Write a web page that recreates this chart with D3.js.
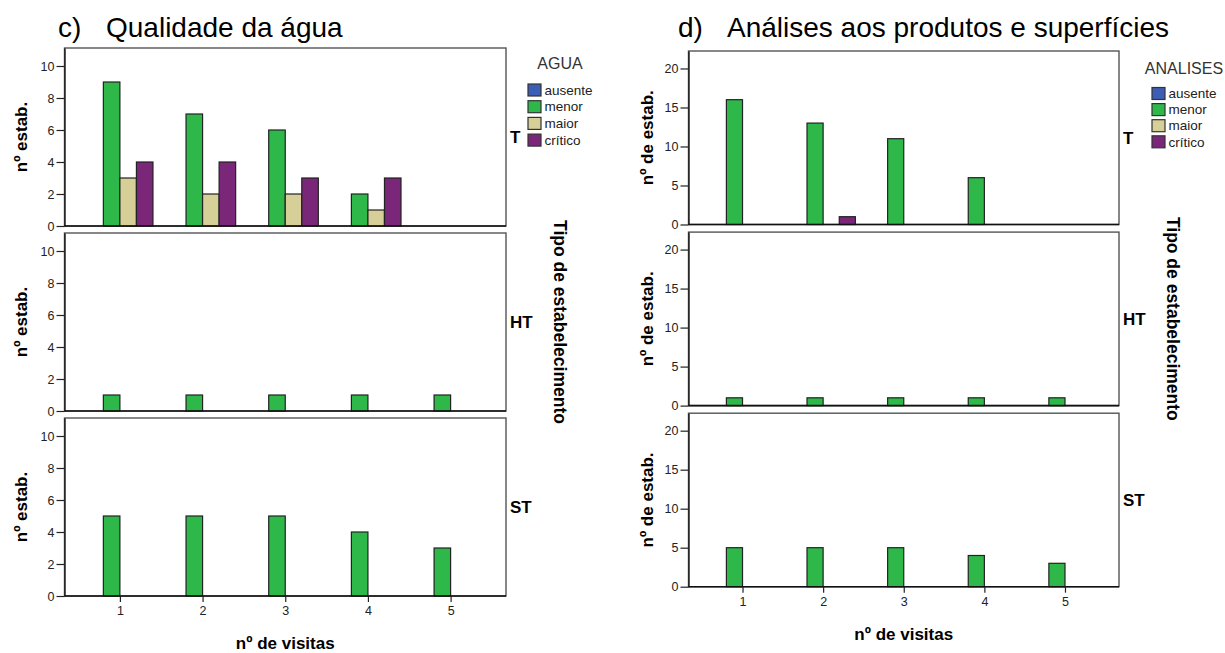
<!DOCTYPE html>
<html>
<head>
<meta charset="utf-8">
<script src="https://cdn.jsdelivr.net/npm/d3@7"></script>
<style>
  html, body { margin: 0; padding: 0; background: #fff; }
  svg { display: block; font-family: "Liberation Sans", Arial, sans-serif; }
</style>
</head>
<body>
<svg id="chart" width="1225" height="653"></svg>
<script>
// ---------- data ----------
const visits = [1, 2, 3, 4, 5];
const categories = ["ausente", "menor", "maior", "crítico"];
const categoryColors = ["#3C5DB5", "#2FB84A", "#D6CF98", "#7B2779"];
const panelTypes = ["T", "HT", "ST"];

// c) Qualidade da água
const aguaT_ausente = [0, 0, 0, 0, 0];
const aguaT_menor   = [9, 7, 6, 2, 0];
const aguaT_maior   = [3, 2, 2, 1, 0];
const aguaT_critico = [4, 4, 3, 3, 0];
const aguaHT_menor  = [1, 1, 1, 1, 1];
const aguaST_menor  = [5, 5, 5, 4, 3];
const aguaYTicks = [0, 2, 4, 6, 8, 10];

// d) Análises aos produtos e superfícies
const anT_ausente = [0, 0, 0, 0, 0];
const anT_menor   = [16, 13, 11, 6, 0];
const anT_maior   = [0, 0, 0, 0, 0];
const anT_critico = [0, 1, 0, 0, 0];
const anHT_menor  = [1, 1, 1, 1, 1];
const anST_menor  = [5, 5, 5, 4, 3];
const anYTicks = [0, 5, 10, 15, 20];

const zeros = [0, 0, 0, 0, 0];

const aguaPanels = [
  { type: panelTypes[0], series: [aguaT_ausente, aguaT_menor, aguaT_maior, aguaT_critico] },
  { type: panelTypes[1], series: [zeros, aguaHT_menor, zeros, zeros] },
  { type: panelTypes[2], series: [zeros, aguaST_menor, zeros, zeros] }
];
const anPanels = [
  { type: panelTypes[0], series: [anT_ausente, anT_menor, anT_maior, anT_critico] },
  { type: panelTypes[1], series: [zeros, anHT_menor, zeros, zeros] },
  { type: panelTypes[2], series: [zeros, anST_menor, zeros, zeros] }
];

// ---------- layout ----------
const charts = [
  {
    letter: "c)", title: "Qualidade da água", titleX: 58, titleTextX: 106,
    left: 64.5, right: 506, top0: 48, ph: 178, gap: 7,
    ymax: 11.125, yticks: aguaYTicks, ylabel: "nº estab.", ylabelX: 21,
    legendTitle: "AGUA", legendX: 528, legendTitleY: 63, legendY0: 90, legendStep: 16.7,
    panels: aguaPanels
  },
  {
    letter: "d)", title: "Análises aos produtos e superfícies", titleX: 678, titleTextX: 727,
    left: 688.5, right: 1119, top0: 51, ph: 173.5, gap: 7.6,
    ymax: 22.24, yticks: anYTicks, ylabel: "nº de estab.", ylabelX: 647,
    legendTitle: "ANALISES", legendX: 1152, legendTitleY: 68, legendY0: 93.5, legendStep: 16.1,
    panels: anPanels
  }
];

const svg = d3.select("#chart");
const color = d3.scaleOrdinal().domain(categories).range(categoryColors);

charts.forEach(cfg => {
  const g = svg.append("g");

  // titles
  g.append("text").attr("x", cfg.titleX).attr("y", 37)
    .attr("font-size", 28).attr("fill", "#000").text(cfg.letter);
  g.append("text").attr("x", cfg.titleTextX).attr("y", 37)
    .attr("font-size", 28).attr("fill", "#000").text(cfg.title);

  const x = d3.scalePoint().domain(visits).range([cfg.left, cfg.right]).padding(0.67);
  const step = x.step();
  const inner = d3.scaleBand().domain(categories).range([-0.4 * step, 0.4 * step]).padding(0);

  cfg.panels.forEach((p, i) => {
    const top = cfg.top0 + i * (cfg.ph + cfg.gap);
    const bottom = top + cfg.ph;
    const y = d3.scaleLinear().domain([0, cfg.ymax]).range([bottom, top]);
    const pg = g.append("g");

    // frame
    pg.append("rect")
      .attr("x", cfg.left).attr("y", top)
      .attr("width", cfg.right - cfg.left).attr("height", cfg.ph)
      .attr("fill", "#fff").attr("stroke", "#555").attr("stroke-width", 1.4);

    // bars
    const barData = [];
    p.series.forEach((vals, ci) => {
      vals.forEach((v, vi) => {
        if (v > 0) barData.push({ cat: categories[ci], visit: visits[vi], value: v });
      });
    });
    pg.selectAll("rect.bar").data(barData).join("rect")
      .attr("class", "bar")
      .attr("x", d => x(d.visit) + inner(d.cat))
      .attr("y", d => y(d.value))
      .attr("width", inner.bandwidth())
      .attr("height", d => y(0) - y(d.value))
      .attr("fill", d => color(d.cat))
      .attr("stroke", "#222").attr("stroke-width", 1.2);

    // y axis
    const ya = pg.append("g").attr("transform", `translate(${cfg.left},0)`)
      .call(d3.axisLeft(y).tickValues(cfg.yticks).tickSize(8).tickSizeOuter(0).tickPadding(2));
    ya.select(".domain").attr("stroke", "#111").attr("stroke-width", 1.3);
    ya.selectAll(".tick line").attr("stroke", "#222").attr("stroke-width", 1.2);
    ya.selectAll(".tick text").attr("font-size", 12.5).attr("fill", "#222")
      .attr("font-family", "'Liberation Sans', Arial, sans-serif");

    // bottom line
    pg.append("line")
      .attr("x1", cfg.left).attr("x2", cfg.right)
      .attr("y1", bottom).attr("y2", bottom)
      .attr("stroke", "#111").attr("stroke-width", 1.6);

    // row label
    pg.append("text")
      .attr("x", cfg.right + 4).attr("y", (top + bottom) / 2)
      .attr("dy", "0.35em").attr("font-size", 17).attr("font-weight", "bold")
      .attr("fill", "#000").text(p.type);

    // y label
    pg.append("text")
      .attr("transform", `translate(${cfg.ylabelX},${(top + bottom) / 2}) rotate(-90)`)
      .attr("text-anchor", "middle").attr("dy", "0.35em")
      .attr("font-size", 17).attr("font-weight", "bold").attr("fill", "#000")
      .text(cfg.ylabel);

    // x axis on bottom panel only
    if (i === cfg.panels.length - 1) {
      const xa = pg.append("g").attr("transform", `translate(0,${bottom})`)
        .call(d3.axisBottom(x).tickSize(6).tickSizeOuter(0).tickPadding(4));
      xa.select(".domain").remove();
      xa.selectAll(".tick line").attr("stroke", "#222").attr("stroke-width", 1.2);
      xa.selectAll(".tick text").attr("font-size", 12.5).attr("fill", "#222")
        .attr("font-family", "'Liberation Sans', Arial, sans-serif");
      g.append("text")
        .attr("x", (cfg.left + cfg.right) / 2).attr("y", bottom + 53)
        .attr("text-anchor", "middle").attr("font-size", 17).attr("font-weight", "bold")
        .attr("fill", "#000").text("nº de visitas");
    }
  });

  // facet label
  const firstTop = cfg.top0;
  const lastBottom = cfg.top0 + 3 * cfg.ph + 2 * cfg.gap;
  g.append("text")
    .attr("transform", `translate(${cfg.right + 54},${(firstTop + lastBottom) / 2}) rotate(90)`)
    .attr("text-anchor", "middle").attr("dy", "0.35em")
    .attr("font-size", 17.5).attr("font-weight", "bold").attr("fill", "#000")
    .text("Tipo de estabelecimento");

  // legend
  const lg = g.append("g");
  const itemW = 16 + 48;
  lg.append("text")
    .attr("x", cfg.legendX + itemW / 2).attr("y", cfg.legendTitleY)
    .attr("dy", "0.35em").attr("text-anchor", "middle")
    .attr("font-size", 16).attr("fill", "#333").text(cfg.legendTitle);
  categories.forEach((c, k) => {
    const cy = cfg.legendY0 + k * cfg.legendStep;
    lg.append("rect")
      .attr("x", cfg.legendX).attr("y", cy - 6)
      .attr("width", 13).attr("height", 12)
      .attr("fill", color(c)).attr("stroke", "#333").attr("stroke-width", 1.2);
    lg.append("text")
      .attr("x", cfg.legendX + 16.5).attr("y", cy)
      .attr("dy", "0.35em").attr("font-size", 13.5).attr("fill", "#222").text(c);
  });
});
</script>
</body>
</html>
